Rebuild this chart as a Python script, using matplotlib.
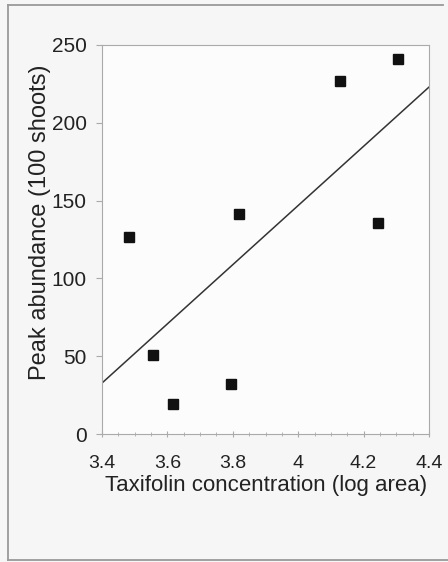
import numpy as np
import matplotlib
matplotlib.use("Agg")
import matplotlib.pyplot as plt
from matplotlib.lines import Line2D
from matplotlib.ticker import MultipleLocator

plt.rcParams["font.family"] = ["Liberation Sans", "DejaVu Sans"]

# taxifolin (log area) vs peak abundance
taxifolin = [3.483, 3.556, 3.617, 3.794, 3.818, 4.127, 4.244, 4.305]
abundance = [126.8, 50.8, 19.3, 32.3, 141.2, 226.9, 135.8, 241.0]
x_ticks = [3.4, 3.6, 3.8, 4.0, 4.2, 4.4]
x_tick_labels = ["3.4", "3.6", "3.8", "4", "4.2", "4.4"]
y_ticks = [0, 50, 100, 150, 200, 250]

W, H = 448, 562
fig = plt.figure(figsize=(W / 100, H / 100), dpi=100, facecolor="#f6f6f6")
ax = fig.add_axes([102 / W, 1 - 434 / H, (429 - 102) / W, (434 - 45) / H])
ax.set_facecolor("#fcfcfc")

# outer frame of the scanned page (left, top, bottom edges only)
x0, x1 = 8 / W, 443 / W
yt, yb = 1 - 5 / H, 1 - 560 / H
for xs, ys in [([x0, x0], [yb, yt]), ([x0, x1], [yt, yt]), ([x0, 1.0], [yb, yb])]:
    fig.add_artist(Line2D(xs, ys, transform=fig.transFigure,
                          color="#9a9a9a", lw=1.3))

ax.plot(taxifolin, abundance, "s", color="#111111", ms=7.2, zorder=3)

# linear trend line across the whole x range
k, b = np.polyfit(taxifolin, abundance, 1)
xl = np.array([3.4, 4.4])
ax.plot(xl, k * xl + b, color="#333333", lw=1.1)

ax.set_xlim(3.4, 4.4)
ax.set_ylim(0, 250)
ax.set_xticks(x_ticks)
ax.set_xticklabels(x_tick_labels)
ax.set_yticks(y_ticks)
ax.xaxis.set_minor_locator(MultipleLocator(0.05))

for s in ax.spines.values():
    s.set_color("#aaaaaa")
    s.set_linewidth(0.8)
ax.tick_params(axis="both", colors="#aaaaaa", labelcolor="#222222",
               length=4, width=0.8)
ax.tick_params(axis="y", labelsize=15, pad=7)
ax.tick_params(axis="x", which="both", direction="inout")
ax.tick_params(axis="x", which="minor", length=3, colors="#aaaaaa")
ax.tick_params(axis="x", labelsize=14, pad=13)

ax.set_xlabel("Taxifolin concentration (log area)", fontsize=16, color="#222222",
              va="center")
ax.set_ylabel("Peak abundance (100 shoots)", fontsize=17, color="#222222",
              ha="center", va="center")
ax.xaxis.set_label_coords(0.503, -51 / 389)
ax.yaxis.set_label_coords(-62 / 327, 0.544)

fig.savefig("out.png", dpi=100, facecolor=fig.get_facecolor())
